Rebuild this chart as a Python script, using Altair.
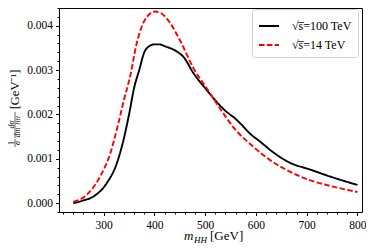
import altair as alt
import pandas as pd

# ---- data ----
m_100 = [240, 260, 280, 306, 326, 339, 350, 360, 370, 380, 390, 400, 410, 420,
         444, 457, 477, 503, 542, 560, 569, 588, 608, 628, 667, 706, 746, 800]
v_100 = [0.0, 0.00006, 0.00015, 0.00045, 0.0009, 0.00142, 0.002, 0.0026, 0.0030,
         0.0034, 0.00354, 0.00358, 0.00358, 0.00354, 0.00342, 0.0033, 0.00293,
         0.00255, 0.00206, 0.0019, 0.0018, 0.00157, 0.00139, 0.0012, 0.00091,
         0.00076, 0.0006, 0.00041]

m_14 = [240, 266, 293, 313, 329, 340, 352, 365, 378, 390, 401, 412, 424, 450,
        477, 503, 529, 555, 595, 628, 667, 706, 746, 800]
v_14 = [0.00003, 0.00018, 0.0006, 0.00112, 0.0018, 0.00233, 0.00285, 0.0036,
        0.00406, 0.00426, 0.00432, 0.00429, 0.00417, 0.00368, 0.00304, 0.00259,
        0.00214, 0.00172, 0.00127, 0.00097, 0.00071, 0.00052, 0.00039, 0.00025]

series = ["√s̅=100 TeV", "√s̅=14 TeV"]
colors = ["#000000", "#ff0000"]
dashes = [[1, 0], [5.5, 2.4]]

x_major = [300, 400, 500, 600, 700, 800]
x_minor = list(range(220, 810, 20))
y_major = [0.0, 0.001, 0.002, 0.003, 0.004]
y_minor = [round(-0.0002 + 0.0002 * i, 4) for i in range(24)]

x_domain = [212, 809]
y_domain = [-0.0002, 0.0044]

df = pd.concat([
    pd.DataFrame({"m": m_100, "v": v_100, "s": series[0]}),
    pd.DataFrame({"m": m_14, "v": v_14, "s": series[1]}),
])

FONT = "Liberation Serif"
W, H = 303, 204

xs = alt.Scale(domain=x_domain, nice=False, zero=False)
ys = alt.Scale(domain=y_domain, nice=False, zero=False)

lines = alt.Chart(df).mark_line(strokeWidth=1.9, interpolate="monotone").encode(
    x=alt.X("m:Q", scale=xs, axis=alt.Axis(values=x_major, format="d", title=None,
            orient="bottom", domain=False, grid=False, tickSize=3.5, tickColor="black",
            labelPadding=4, labelFont=FONT, labelFontSize=11.5, labelColor="black")),
    y=alt.Y("v:Q", scale=ys, axis=alt.Axis(values=y_major, format=".3f", title=None,
            orient="left", domain=False, grid=False, tickSize=3.5, tickColor="black",
            labelPadding=3, labelFont=FONT, labelFontSize=11.5, labelColor="black")),
    color=alt.Color("s:N", scale=alt.Scale(domain=series, range=colors), title=None),
    strokeDash=alt.StrokeDash("s:N", scale=alt.Scale(domain=series, range=dashes), title=None),
)

minor = alt.Chart(df).mark_point(opacity=0).encode(
    x=alt.X("m:Q", scale=xs, axis=alt.Axis(values=x_minor, labels=False, title=None,
            orient="bottom", domain=False, grid=False, tickSize=2, tickColor="black")),
    y=alt.Y("v:Q", scale=ys, axis=alt.Axis(values=y_minor, labels=False, title=None,
            orient="left", domain=False, grid=False, tickSize=2, tickColor="black")),
)

one = alt.Data(values=[{"a": 1}])


def txt(s, x, y, size, italic=False, angle=0, align="left", baseline="alphabetic"):
    kw = dict(font=FONT, fontSize=size, color="black", align=align, baseline=baseline)
    if italic:
        kw["fontStyle"] = "italic"
    if angle:
        kw["angle"] = angle
    return alt.Chart(one).mark_text(**kw).encode(
        x=alt.value(x), y=alt.value(y), text=alt.value(s))


def bar(x, y1, y2):
    return alt.Chart(one).mark_rule(color="black", strokeWidth=0.6).encode(
        x=alt.value(x), y=alt.value(y1), y2=alt.value(y2))


titles = [
    # x title: m_HH [GeV]
    txt("m", 125, 232, 13, italic=True),
    txt("HH", 135, 234.5, 9, italic=True),
    txt("[GeV]", 151, 232, 13),
    # y title: 1/sigma dsigma/dm_HH [GeV^-1]
    txt("[GeV⁻¹]", -40, 81.5, 12.5, angle=270, align="center"),
    txt("1", -45, 135, 8, angle=270, align="center"),
    txt("σ", -39.5, 135, 8, italic=True, angle=270, align="center"),
    bar(-44, 131, 139),
    txt("dσ", -45, 116.5, 8, italic=True, angle=270, align="center"),
    txt("dm", -39.5, 124.5, 8, italic=True, angle=270, align="center"),
    txt("HH", -39, 112.5, 6, italic=True, angle=270, align="center"),
    bar(-44, 104, 130),
]

chart = alt.layer(lines, minor, *titles).resolve_axis(x="independent", y="independent").properties(
    width=W, height=H,
    autosize=alt.AutoSizeParams(type="none"),
    padding={"left": 51, "top": 0, "right": 4, "bottom": 35},
).configure_view(stroke="black", strokeWidth=1).configure_legend(
    orient="none", legendX=193, legendY=1,
    fillColor="white", strokeColor="#d0d0d0", cornerRadius=3, padding=6,
    symbolType="stroke", symbolSize=400, symbolStrokeWidth=2,
    labelFont=FONT, labelFontSize=12, labelColor="black", labelOffset=12,
    rowPadding=2, labelLimit=200,
)

chart.save("out.html", embed_options={"renderer": "svg", "actions": False})
